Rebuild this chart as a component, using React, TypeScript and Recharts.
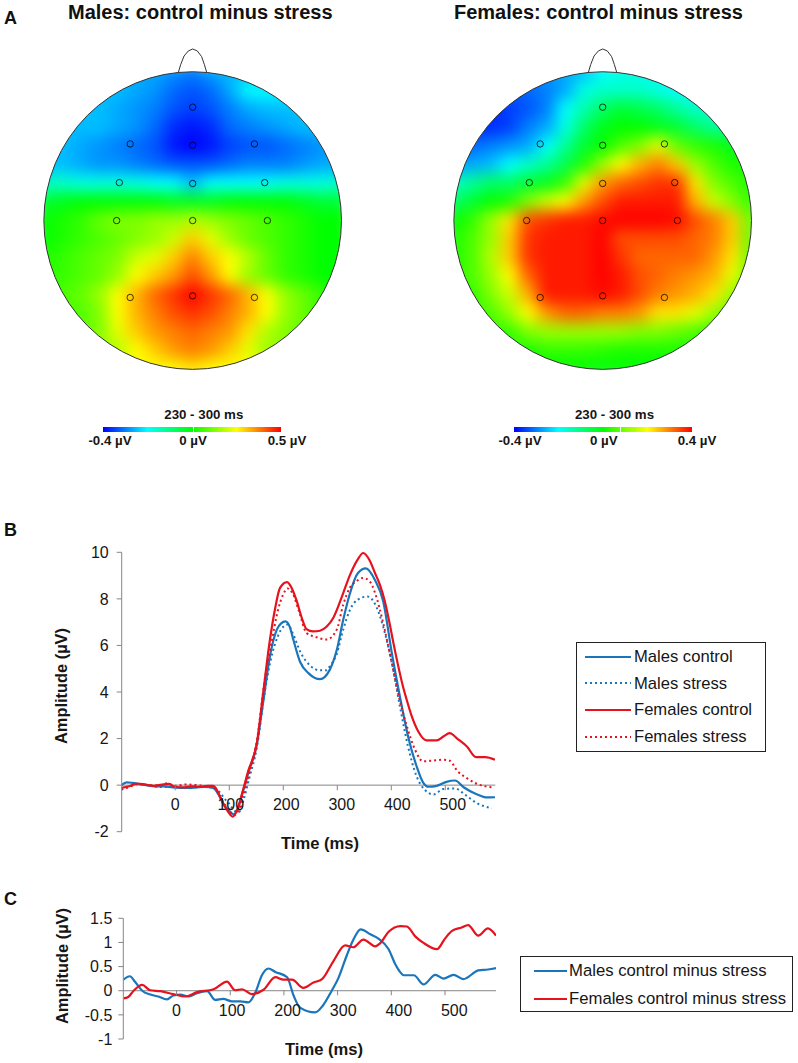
import React from 'react';
import { LineChart, Line, XAxis, YAxis, ReferenceLine, Legend, ScatterChart, Scatter, ReferenceDot } from 'recharts';

const FONT = '"Liberation Sans", Arial, sans-serif';
const BLUE = '#1b75bb';
const RED = '#e6121d';
const AXIS = '#868686';
const INK = '#161616';

// Panel B
const msFemaleControl = [-100,-85,-70,-55,-40,-25,-12,0,15,30,45,60,70,78,88,98,106,115,125,135,151,163,175,185,194,207,216,225,234,243,255,268,280,293,311,323,338,348,360,370,379,388,396,404,413,422,430,438,450,465,484,497,508,523,540,557,574,592];
const ampFemaleControl = [-0.12,-0.05,0.07,0.02,-0.03,0.02,0.05,-0.08,-0.1,-0.05,-0.07,-0.03,-0.03,-0.25,-0.75,-1.15,-1.35,-1.05,-0.25,0.6,1.8,4,6.2,7.6,8.47,8.72,8.45,7.9,7.2,6.7,6.6,6.63,6.8,7.2,8.25,9,9.7,9.97,9.65,9.1,8.6,7.9,7.05,6.1,5.1,4.2,3.55,2.95,2.3,1.92,1.92,2.1,2.23,1.98,1.66,1.2,1.2,1.09];
const msMaleControl = [-100,-90,-80,-65,-50,-35,-20,-5,10,25,40,55,70,80,90,100,108,116,125,135,151,163,175,188,196,204,212,218,231,247,268,286,299,311,323,338,353,370,385,401,416,431,447,459,469,484,502,518,534,558,577,592];
const ampMaleControl = [0,0.12,0.1,0.04,-0.02,-0.05,-0.05,-0.1,-0.12,-0.12,-0.1,-0.08,-0.12,-0.4,-0.85,-1.1,-1.25,-1,-0.3,0.5,1.75,3.6,5.5,6.68,6.95,7.03,6.8,6.3,5.3,4.8,4.55,4.95,5.8,7.1,8.2,9.1,9.31,8.8,7.9,5.67,3.8,2.1,0.8,0.11,-0.07,-0.03,0.14,0.2,-0.09,-0.39,-0.53,-0.52];
const msMaleStress = [-100,-85,-70,-50,-30,-10,10,30,50,70,82,92,100,110,118,127,137,151,165,178,190,200,208,218,232,250,268,280,286,299,311,323,338,356,372,385,401,416,431,447,462,478,496,518,537,558,586];
const ampMaleStress = [-0.2,-0.05,0.06,0,-0.08,-0.08,-0.1,-0.1,-0.08,-0.1,-0.3,-0.6,-0.8,-1.1,-1.15,-0.6,0.3,1.6,3.9,5.5,6.4,6.8,6.9,6.5,5.7,5.13,4.93,4.93,5.1,5.64,6.68,7.5,7.97,8.1,7.68,6.8,5.24,3.38,1.66,0.37,-0.2,-0.4,-0.17,-0.14,-0.42,-0.77,-0.99];
const msFemaleStress = [-100,-85,-70,-50,-30,-15,0,20,40,60,72,82,92,100,108,118,128,138,151,165,178,190,200,208,218,230,243,262,280,299,311,323,335,348,360,370,385,401,414,429,444,459,478,496,508,523,540,558,586];
const ampFemaleStress = [-0.18,-0.08,0.05,0,-0.02,0.08,-0.03,0.03,0,-0.05,-0.08,-0.45,-0.85,-1.1,-1.3,-1.05,-0.25,0.6,1.9,4.4,6.1,7.5,8.2,8.45,8.2,7.4,6.53,6.35,6.25,6.68,7.75,8.47,8.75,8.9,8.75,8.25,6.96,5.24,3.81,2.52,1.52,1.02,1.06,1.09,1.05,0.59,0.3,0.06,-0.09];

// Panel C
const msMaleDiff = [-99,-87,-77,-64,-49,-34,-18,-6,7,22,38,57,72,87,103,119,134,147,159,171,184,206,218,230,258,273,289,301,317,329,343,361,376,395,407,417,423,442,460,482,497,516,534,562,580,595];
const ampMaleDiff = [0.23,0.3,0.18,0,-0.08,-0.12,-0.18,-0.1,-0.08,-0.12,-0.05,-0.01,-0.19,-0.17,-0.22,-0.22,-0.24,-0.03,0.32,0.46,0.39,0.28,-0.1,-0.35,-0.45,-0.3,0,0.25,0.73,1.05,1.27,1.17,1.08,0.86,0.56,0.38,0.32,0.32,0.13,0.33,0.25,0.33,0.24,0.42,0.44,0.47];
const msFemaleDiff = [-99,-90,-80,-64,-49,-30,-6,16,38,69,94,109,122,140,162,184,199,215,236,255,271,292,314,329,348,370,379,395,417,429,445,460,485,500,513,531,543,562,580,595];
const ampFemaleDiff = [-0.16,-0.13,0,0.12,0.01,-0.01,-0.07,-0.12,-0.03,0.03,0.19,0.01,0.03,-0.07,0.02,0.28,0.23,0.23,0.06,0.17,0.24,0.61,0.94,0.9,1.06,0.92,0.98,1.22,1.34,1.33,1.12,0.99,0.86,1.08,1.24,1.31,1.36,1.14,1.29,1.14];

const timeTicks = [0, 100, 200, 300, 400, 500];
const amplitudeTicksB = [-2, 0, 2, 4, 6, 8, 10];
const amplitudeTicksC = [-1, -0.5, 0, 0.5, 1, 1.5];

// Panel A: colour level on a -10 (blue) .. 0 (green) .. 10 (red) range, read on a 17x17 grid
const maleMapRows = [
  [-6,-6,-6,-6,-6,-6,-6,-6.5,-7,-6,-5.5,-5.5,-5.5,-5.5,-5.5,-5.5,-5.5],
  [-5.5,-5.5,-5.5,-5.5,-5.5,-6,-6.5,-7.5,-8,-7.5,-6,-5,-5,-5,-5,-5,-5],
  [-5.5,-5.5,-5.5,-5.5,-6,-6.5,-7,-8,-8.5,-8,-7,-6,-5.5,-5.5,-5.5,-5.5,-5.5],
  [-5.5,-5.5,-5.5,-5.5,-6,-6.5,-7.5,-9,-9.5,-9,-7.5,-7,-6.5,-6,-5.5,-5.5,-5.5],
  [-5.5,-5.5,-6,-6.5,-7,-7.5,-8,-9.5,-10,-9.5,-8.5,-8,-8,-7.5,-7,-6.5,-6],
  [-5.5,-5.5,-6,-6.5,-6.5,-7,-7.5,-8,-8,-8,-7.5,-7,-7,-7,-6.5,-6,-6],
  [-4,-4,-4.5,-4.5,-4.5,-4.5,-5,-5,-5.5,-5,-5,-5,-5,-4.5,-4.5,-4.5,-4],
  [-1,-0.5,0,0,0,0,0,-0.5,-0.5,-0.5,0,0,0,0,-0.5,-1,-1],
  [0,0.5,1,2,2.5,2.5,3,3,3.5,3,2.5,2,1.5,1,0.5,0,0],
  [0,0.5,1,1.5,2,2.5,3,4,6,4.5,3,2,1.5,1,0.5,0,0],
  [0.5,1,1.5,2,2.5,4,4.5,6,7.5,6,5,3.5,2,1,0.5,0,0],
  [1,1,1.5,2,3,5,6,7,8.5,7,5,3,2,1,0.5,0,0],
  [1,1.5,2,3,5,6.5,8,9,10,9,8,6.5,5,3,2,1,0.5],
  [1,1.5,1.5,2.5,5,6.5,7.5,8.5,9,8.5,7.5,6.5,5,3,2,1,1],
  [2,2,2,2.5,4.5,6,7,7.5,8,7.5,7,5.5,3.5,2.5,2,2,2],
  [3,3,3,3,3.5,5,6,7,7.5,7,6,4.5,3,3,3,3,3],
  [5,5,5,5,5,5,5,5,5.5,5,5,5,5,5,5,5,5],
];
const femaleMapRows = [
  [-8,-8,-8,-7,-7,-6.5,-6,-5.5,-5,-4.5,-4.5,-4.5,-5,-5,-5,-5,-5],
  [-8,-8,-8,-8,-7.5,-7,-6,-4.5,-4,-4,-4,-4.5,-5,-5,-5,-5,-5],
  [-9,-9,-9,-8.5,-8,-7,-5,-3.5,-2,-1,-1.5,-2,-3,-4,-4,-4,-4],
  [-9,-9,-9,-8.5,-7,-6,-4.5,-2,-0.5,0,0,-0.5,-1,-2,-3,-3,-3],
  [-8,-7.5,-7,-6.5,-6,-5,-3,-1,0,1.5,2.5,4.5,2,1,0.5,-0.5,-0.5],
  [-6,-6,-5.5,-5,-4,-3,-1.5,0.5,3,5,6.5,7.5,6,3,1.5,0.5,0.5],
  [-4,-3,-2,-2,-1,-0.5,1,4.5,7,8,8.5,9,9,5.5,2.5,1.5,0.5],
  [-2,-1,0,0.5,2.5,4,5,7,8.5,9.5,9.5,9.5,9.5,6.5,4,2.5,1],
  [0,1,3,5.5,8.5,9,9.5,9.5,9.8,10,10,10,9.8,8.5,7.5,6,2],
  [0.5,1.5,3,6,9,9.5,9.5,9.5,10,8.5,8.5,8.5,8.5,8,7.5,6,2],
  [0.5,1.5,3.5,6,9,9.5,9.5,9.5,10,9,8,8,8,8,7,5.5,2],
  [1,1.5,3,5,8,9.5,9.5,9.5,10,9.5,8.5,8,7.5,7,6.5,4.5,2],
  [1,1,2.5,4,6.5,9.5,9.5,9.5,9.8,9.5,8.5,7.5,7,6.5,5.5,3,1.5],
  [1,1,1.5,3,5,7,8,8,7.5,7.5,7,5.5,5.5,4.5,3,1.5,1],
  [1,1,1,1,2.5,3,3,3,3,3,2.5,2.5,2,1.5,1,1,1],
  [0.5,0.5,0.5,0.5,0.5,1,1,1,0.8,0.5,0.5,0.5,0.5,0.5,0.5,0.5,0.5],
  [0,0,0,0,0,0,0,0,-0.2,0,0,0,0,0,0,0,0],
];
const electrodeX = [-0.42,0.415,0,0,-0.493,0,0.484,-0.511,0,0.502,-0.42,0,0.415];
const electrodeY = [0.515,0.515,0.762,0.506,0.255,0.249,0.255,0,0,0,-0.517,-0.506,-0.517];
const noseX = [-0.096,-0.08,-0.058,-0.029,0,0.031,0.06,0.078,0.094];
const noseY = [0.997,1.05,1.106,1.14,1.153,1.14,1.102,1.05,0.997];

const zip = (xs: number[], ys: number[]) => xs.map((ms, i) => ({ ms, v: ys[i] }));

const levelStops: [number, number[]][] = [
  [-10, [0, 0, 255]], [-5.5, [0, 190, 255]], [-5, [0, 255, 255]], [0, [0, 255, 0]], [5, [255, 255, 0]], [10, [255, 0, 0]],
];
function levelColor(l: number) {
  for (let i = 1; i < levelStops.length; i++) {
    const [a, ca] = levelStops[i - 1];
    const [b, cb] = levelStops[i];
    if (l <= b) {
      const t = (l - a) / (b - a);
      return `rgb(${ca.map((c, k) => Math.round(c + (cb[k] - c) * t)).join(',')})`;
    }
  }
  return 'rgb(255,0,0)';
}

const R = 148.8;
const HEAD_W = 2.2 * R;
const HEAD_H = 2.3 * R;
const GRID_STEP = R / 8;

function Cell(props: any) {
  const { cx, cy, payload } = props;
  const s = GRID_STEP + 1;
  return <rect x={cx - s / 2} y={cy - s / 2} width={s} height={s} fill={levelColor(payload.level)} />;
}
function Electrode(props: any) {
  return <circle cx={props.cx} cy={props.cy} r={3.2} fill="none" stroke="#000" strokeOpacity={0.75} strokeWidth={1} />;
}
const NoMark = () => null;

function Head({ rows, left, id }: { rows: number[][]; left: number; id: string }) {
  const cells = rows.flatMap((row, j) => row.map((level, i) => ({ x: -1 + i / 8, y: 1 - j / 8, level })));
  const electrodes = electrodeX.map((x, i) => ({ x, y: electrodeY[i] }));
  const nose = noseX.map((x, i) => ({ x, y: noseY[i] }));
  const cxPx = 1.1 * R;
  const cyPx = 1.2 * R;
  return (
    <div style={{ position: 'absolute', left, top: 42.4 }}>
      <style>{`.${id} { filter: url(#${id}-blur); clip-path: url(#${id}-clip); }`}</style>
      <ScatterChart width={HEAD_W} height={HEAD_H} margin={{ top: 0, right: 0, bottom: 0, left: 0 }}>
        <defs>
          <filter id={`${id}-blur`} x="-10%" y="-10%" width="120%" height="120%" colorInterpolationFilters="sRGB">
            <feGaussianBlur stdDeviation={7.5} />
          </filter>
          <clipPath id={`${id}-clip`} clipPathUnits="userSpaceOnUse">
            <circle cx={cxPx} cy={cyPx} r={R} />
          </clipPath>
        </defs>
        <XAxis type="number" dataKey="x" domain={[-1.1, 1.1]} hide />
        <YAxis type="number" dataKey="y" domain={[-1.1, 1.2]} hide />
        <Scatter className={id} data={cells} shape={Cell} isAnimationActive={false} />
        <ReferenceDot x={0} y={0} r={R} fill="none" stroke="#333" strokeWidth={1} ifOverflow="visible" />
        <Scatter data={nose} shape={NoMark} line={{ stroke: '#333', strokeWidth: 1 }} isAnimationActive={false} />
        <Scatter data={electrodes} shape={Electrode} isAnimationActive={false} />
      </ScatterChart>
    </div>
  );
}

function ColorBar({ left, zeroAt, labels, labelX }: { left: number; zeroAt: number; labels: string[]; labelX: number[] }) {
  return (
    <>
      <div style={{ position: 'absolute', left: left + 8, width: 185, top: 407, textAlign: 'center', font: `bold 13.3px ${FONT}`, color: INK, whiteSpace: 'nowrap' }}>230 - 300 ms</div>
      <div style={{ position: 'absolute', left, top: 426.5, width: 178, height: 5.5, background: 'linear-gradient(90deg,#0000ff 0%,#00ffff 25%,#00ff00 50%,#ffff00 75%,#ff0000 100%)' }} />
      <div style={{ position: 'absolute', left: zeroAt, top: 426.5, width: 1, height: 5.5, background: '#e8ffe8' }} />
      {labelX.map((x, i) => (
        <div key={i} style={{ position: 'absolute', left: x - 40, width: 80, top: 433, textAlign: 'center', font: `bold 13.3px ${FONT}`, color: INK, whiteSpace: 'nowrap' }}>{labels[i]}</div>
      ))}
    </>
  );
}

function makeLegend(width: number, height: number, rowGap: number, padTop: number, sampleX: number, sampleW: number, textX: number, fontSize: number) {
  return function LegendBox(props: any) {
    return (
      <div style={{ width, height, boxSizing: 'border-box', border: '1px solid #222', background: '#fff', position: 'relative' }}>
        {(props.payload || []).map((item: any, i: number) => (
          <div key={i} style={{ position: 'absolute', left: 0, top: padTop + i * rowGap, height: 0 }}>
            <svg width={sampleW + 2} height={4} style={{ position: 'absolute', left: sampleX, top: -2 }}>
              <line x1={0} x2={sampleW} y1={2} y2={2} stroke={item.color} strokeWidth={2.2} strokeDasharray={item.payload?.strokeDasharray} />
            </svg>
            <span style={{ position: 'absolute', left: textX, top: -fontSize * 0.58, font: `${fontSize}px ${FONT}`, color: INK, whiteSpace: 'nowrap' }}>{item.value}</span>
          </div>
        ))}
      </div>
    );
  };
}

function makeTimeTick(axisY: number, labelY: number, drift: number) {
  return function TimeTick(props: any) {
    const { x, payload } = props;
    return (
      <g>
        <line x1={x} x2={x} y1={axisY} y2={axisY + 5} stroke={AXIS} />
        <text x={x + payload.value * drift} y={labelY} textAnchor="middle" fontSize={16} fontFamily={FONT} fill={INK}>{payload.value}</text>
      </g>
    );
  };
}

const tickStyle = { fontSize: 16, fontFamily: FONT, fill: INK };
const titleStyle: React.CSSProperties = { position: 'absolute', font: `bold 20px ${FONT}`, color: '#111', whiteSpace: 'nowrap' };
const letterStyle: React.CSSProperties = { position: 'absolute', left: 4, font: `bold 18px ${FONT}`, color: '#111' };

const LegendB = makeLegend(190, 110, 26.8, 13.5, 8, 46, 57, 16.6);
const LegendC = makeLegend(273, 56, 27.5, 14, 13, 33, 48, 16.7);

export default function App() {
  return (
    <div style={{ position: 'absolute', left: 0, top: 0, width: 798, height: 1063, background: '#fff', overflow: 'hidden' }}>
      <div style={{ ...letterStyle, top: 8 }}>A</div>
      <div style={{ ...letterStyle, top: 520 }}>B</div>
      <div style={{ ...letterStyle, top: 889 }}>C</div>
      <div style={{ ...titleStyle, left: 68, top: 1 }}>Males: control minus stress</div>
      <div style={{ ...titleStyle, left: 454, top: 1 }}>Females: control minus stress</div>

      <Head rows={maleMapRows} left={192.7 - 1.1 * R} id="male" />
      <Head rows={femaleMapRows} left={603 - 1.1 * R} id="female" />
      <ColorBar left={103.3} zeroAt={193} labels={['-0.4 µV', '0 µV', '0.5 µV']} labelX={[110, 193, 287]} />
      <ColorBar left={514} zeroAt={620} labels={['-0.4 µV', '0 µV', '0.4 µV']} labelX={[520, 603.7, 697]} />

      <div style={{ position: 'absolute', left: 0, top: 540 }}>
        <LineChart width={798} height={320} margin={{ top: 12.3, right: 302.7, bottom: 0, left: 0 }}>
          <XAxis type="number" dataKey="ms" domain={[-99.2, 592.6]} ticks={timeTicks} height={28.3} axisLine={false} tickLine={false} tick={makeTimeTick(245.3, 269.5, 0.015)} allowDataOverflow />
          <YAxis type="number" domain={[-2, 10]} ticks={amplitudeTicksB} width={121.7} stroke={AXIS} tickSize={5} tickMargin={8} tick={tickStyle} interval={0} />
          <ReferenceLine y={0} stroke={AXIS} />
          <Line data={zip(msMaleControl, ampMaleControl)} dataKey="v" name="Males control" type="monotone" stroke={BLUE} strokeWidth={2.2} dot={false} isAnimationActive={false} />
          <Line data={zip(msMaleStress, ampMaleStress)} dataKey="v" name="Males stress" type="monotone" stroke={BLUE} strokeWidth={2} strokeDasharray="2 3" dot={false} isAnimationActive={false} />
          <Line data={zip(msFemaleControl, ampFemaleControl)} dataKey="v" name="Females control" type="monotone" stroke={RED} strokeWidth={2.2} dot={false} isAnimationActive={false} />
          <Line data={zip(msFemaleStress, ampFemaleStress)} dataKey="v" name="Females stress" type="monotone" stroke={RED} strokeWidth={2} strokeDasharray="2 3" dot={false} isAnimationActive={false} />
          <Legend layout="horizontal" verticalAlign="middle" align="center" itemSorter={null} content={LegendB} wrapperStyle={{ position: 'absolute', left: 576, top: 102, width: 190, height: 110 }} />
          <text x={61} y={146} textAnchor="middle" fontSize={16.4} fontWeight="bold" fontFamily={FONT} fill={INK} transform="rotate(-90 61 146) translate(0 5.5)">Amplitude (µV)</text>
          <text x={320} y={309} textAnchor="middle" fontSize={16.6} fontWeight="bold" fontFamily={FONT} fill={INK}>Time (ms)</text>
        </LineChart>
      </div>

      <div style={{ position: 'absolute', left: 0, top: 905 }}>
        <LineChart width={798} height={158} margin={{ top: 13.3, right: 302, bottom: 0, left: 0 }}>
          <XAxis type="number" dataKey="ms" domain={[-99.2, 595]} ticks={timeTicks} height={24} axisLine={false} tickLine={false} tick={makeTimeTick(85.3, 111, 0.0186)} allowDataOverflow />
          <YAxis type="number" domain={[-1, 1.5]} ticks={amplitudeTicksC} width={123.3} stroke={AXIS} tickSize={5} tickMargin={6} tick={tickStyle} interval={0} />
          <ReferenceLine y={0} stroke={AXIS} />
          <Line data={zip(msMaleDiff, ampMaleDiff)} dataKey="v" name="Males control minus stress" type="monotone" stroke={BLUE} strokeWidth={2.2} dot={false} isAnimationActive={false} />
          <Line data={zip(msFemaleDiff, ampFemaleDiff)} dataKey="v" name="Females control minus stress" type="monotone" stroke={RED} strokeWidth={2.2} dot={false} isAnimationActive={false} />
          <Legend layout="horizontal" verticalAlign="middle" align="center" itemSorter={null} content={LegendC} wrapperStyle={{ position: 'absolute', left: 520, top: 51, width: 273, height: 56 }} />
          <text x={62} y={61} textAnchor="middle" fontSize={16.4} fontWeight="bold" fontFamily={FONT} fill={INK} transform="rotate(-90 62 61) translate(0 5.5)">Amplitude (µV)</text>
          <text x={324} y={150} textAnchor="middle" fontSize={16.6} fontWeight="bold" fontFamily={FONT} fill={INK}>Time (ms)</text>
        </LineChart>
      </div>
    </div>
  );
}
